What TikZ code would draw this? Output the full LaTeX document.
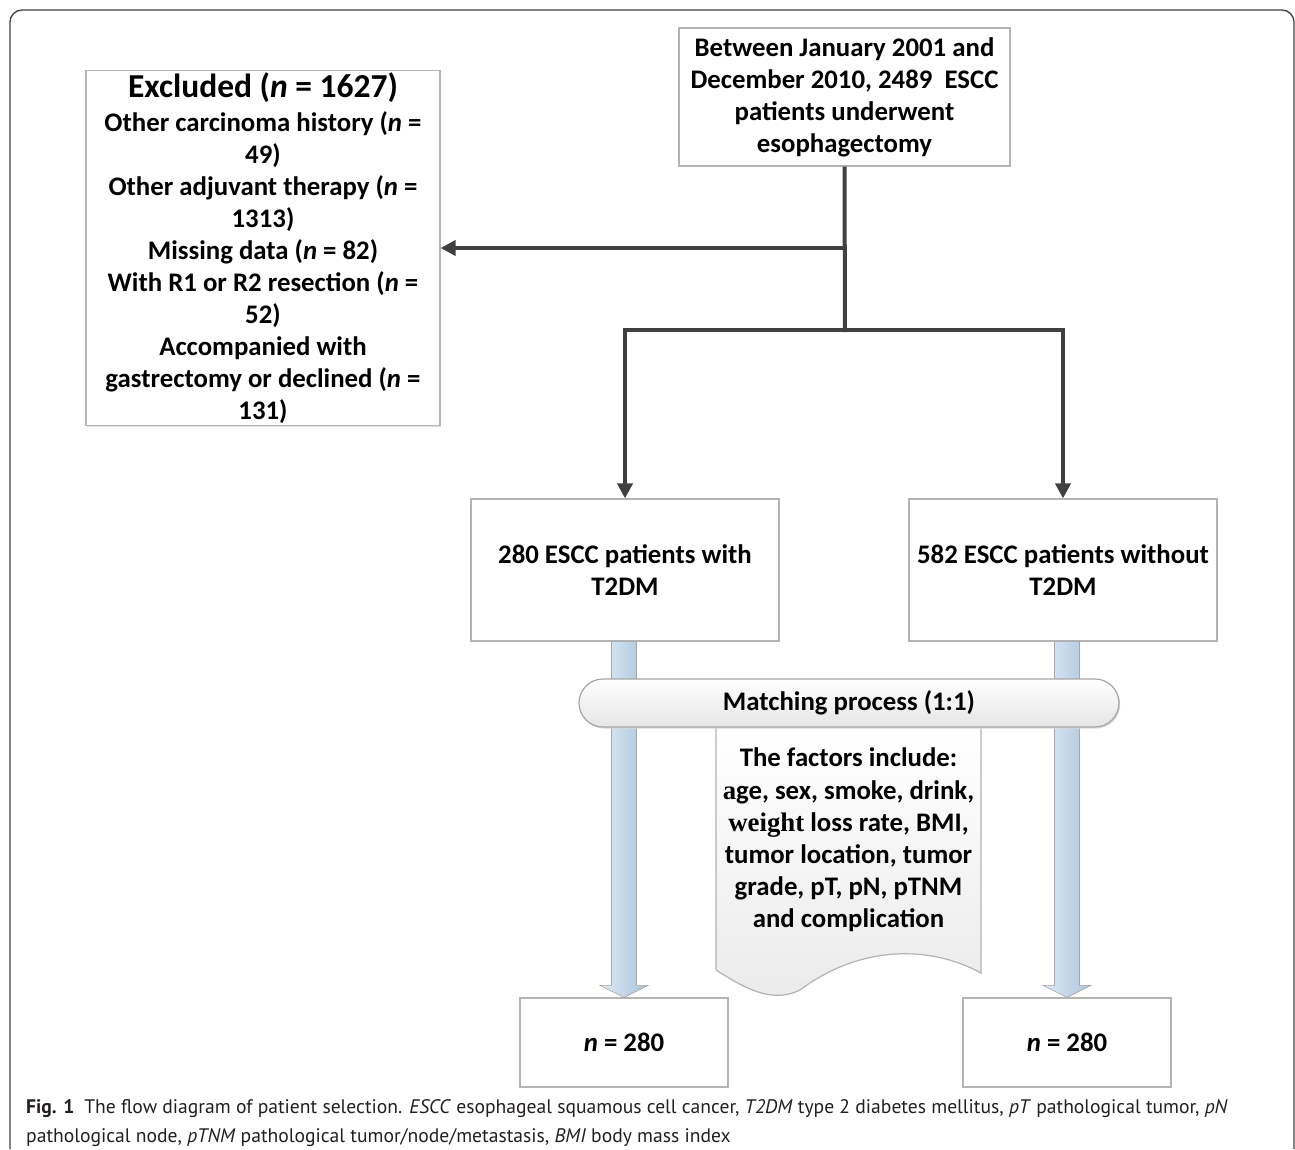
\documentclass[tikz,border=0pt]{standalone}
\usepackage{fontspec}
\setmainfont{Carlito}
\newfontfamily\capfont{PT Sans}
\newfontfamily\serifb{Liberation Serif}
\usetikzlibrary{arrows.meta,shadows,calc}
\definecolor{connc}{HTML}{404040}
\definecolor{bord}{HTML}{B4B4B4}
\definecolor{blueL}{HTML}{E0EAF4}
\definecolor{blueR}{HTML}{A9C4DD}
\definecolor{capc}{HTML}{231F20}
\begin{document}
\begin{tikzpicture}[x=1pt,y=-1pt,
  box/.style={draw=bord, line width=1.2pt, fill=white, align=center,
    font=\bfseries\fontsize{26.8}{32}\selectfont, inner sep=0pt,
    drop shadow={shadow xshift=1.2pt, shadow yshift=-1.2pt, fill=black!12, opacity=1}},
  line/.style={draw=connc, line width=4pt},
  arr/.style={line, -{Triangle[length=15pt,width=15pt]}},
  fat/.style={draw=black!35, line width=0.6pt, left color=blueL, right color=blueR},
]
\useasboundingbox (0,0) rectangle (1295,1149);
% frame
\draw[draw=black!75, line width=1.3pt] (10,1149) -- (10,22) arc[start angle=180,end angle=90,radius=12pt] -- (1282,10) arc[start angle=90,end angle=0,radius=12pt] -- (1294,1149);

% boxes
\node[box, minimum width=331, minimum height=138] (top) at (844.5,97)
  {Between January 2001 and\\December 2010, 2489~ ESCC\\patients underwent\\esophagectomy};
\node[box, minimum width=354, minimum height=355] (ex) at (263,248)
  {{\fontsize{33.5}{36}\selectfont Excluded (\textit{n} = 1627)}\\[2pt]
   Other carcinoma history (\textit{n} =\\49)\\
   Other adjuvant therapy (\textit{n} =\\1313)\\
   Missing data (\textit{n} = 82)\\
   With R1 or R2 resection (\textit{n} =\\52)\\
   Accompanied with\\gastrectomy or declined (\textit{n} =\\131)};
\node[box, minimum width=308, minimum height=142] (l2) at (625,570)
  {280 ESCC patients with\\T2DM};
\node[box, minimum width=308, minimum height=142] (r2) at (1063,570)
  {582 ESCC patients without\\T2DM};
\node[box, minimum width=208, minimum height=89] (nl) at (624,1042.5)
  {\textit{n} = 280};
\node[box, minimum width=208, minimum height=89] (nr) at (1067,1042.5)
  {\textit{n} = 280};

% connectors
\coordinate (j1) at (845,248);
\coordinate (j2) at (845,330);
\draw[line] (top.south) -- (845,332);
\draw[arr] (j1) -- (ex.east |- j1);
\draw[arr] (j2) -| (l2.north);
\draw[arr] (j2) -| (r2.north);

% fat arrows
\path[fat] let \p1=(l2.south), \p2=(nl.north) in
  (\x2-12.5pt,\y1) -- (\x2+12.5pt,\y1) -- (\x2+12.5pt,\y2+12pt) -- (\x2+24pt,\y2+12pt)
  -- (\x2,\y2) -- (\x2-24pt,\y2+12pt) -- (\x2-12.5pt,\y2+12pt) -- cycle;
\path[fat] let \p1=(r2.south), \p2=(nr.north) in
  (\x2-12.5pt,\y1) -- (\x2+12.5pt,\y1) -- (\x2+12.5pt,\y2+12pt) -- (\x2+24pt,\y2+12pt)
  -- (\x2,\y2) -- (\x2-24pt,\y2+12pt) -- (\x2-12.5pt,\y2+12pt) -- cycle;

% document shape
\draw[draw=black!30, line width=1.2pt, top color=white, bottom color=black!8]
  (716,727) -- (981,727) -- (981,973)
  .. controls (930,945) and (860,945) .. (800,990)
  .. controls (770,1005) and (740,985) .. (716,970) -- cycle;
\node[align=center, font=\bfseries\fontsize{26.8}{32.2}\selectfont, inner sep=0pt] (doc) at (848.5,840)
  {The factors include:\\{\serifb a}ge, sex, smoke, drink,\\{\serifb weight} loss rate, BMI,\\tumor location, tumor\\grade, pT, pN, pTNM\\and complication};

% pill
\node[draw=black!35, line width=1.2pt, rounded corners=24pt, minimum width=540, minimum height=48,
  top color=white, bottom color=black!10, font=\bfseries\fontsize{26.8}{28}\selectfont,
  drop shadow={shadow xshift=1.2pt, shadow yshift=-1.5pt, fill=black!15, opacity=1}] (pill) at (849,703)
  {Matching process (1:1)};

% caption
\node[anchor=north west, align=left, inner sep=0pt, text=capc,
  font=\capfont\fontsize{19.6}{29}\selectfont] (cap) at (26,1099)
  {\textbf{Fig. 1}\enspace The flow diagram of patient selection. \textit{ESCC} esophageal squamous cell cancer, \textit{T2DM} type 2 diabetes mellitus, \textit{pT} pathological tumor, \textit{pN}\\
   pathological node, \textit{pTNM} pathological tumor/node/metastasis, \textit{BMI} body mass index};
\end{tikzpicture}
\end{document}
